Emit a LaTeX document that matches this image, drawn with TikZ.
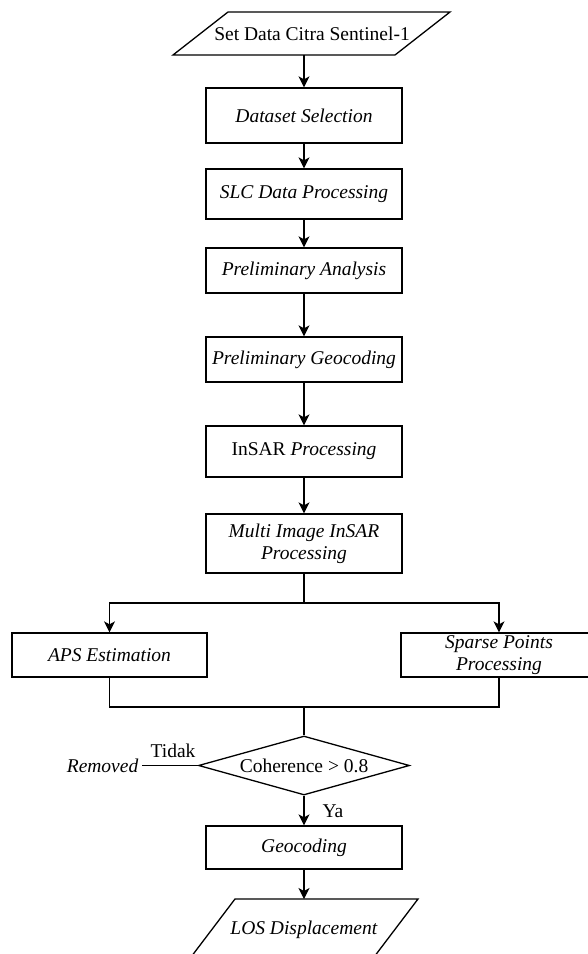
\documentclass[tikz,border=0pt]{standalone}
\usepackage{fontspec}
\setmainfont{Liberation Serif}
\usetikzlibrary{shapes.geometric,arrows.meta}
\begin{document}
\begin{tikzpicture}[x=1pt,y=-1pt,
  line width=1.3pt,
  every node/.style={font=\fontsize{19.5}{22}\selectfont},
  procbox/.style={draw, rectangle, minimum width=196pt, inner sep=0pt, align=center},
  arr/.style={-{Stealth[length=11pt,width=11pt,inset=3pt]}},
  plain/.style={-}]
\useasboundingbox (0,0) rectangle (587,954);
% input parallelogram
\draw (228,12) -- (450,12) -- (395,55) -- (173,55) -- cycle;
\node[inner sep=0pt] (inp) at (312,34) {Set Data Citra Sentinel-1};
\coordinate (inpS) at (304,55);
% process boxes
\node[procbox, minimum height=55pt] (ds) at (304,115.5) {\textit{Dataset Selection}};
\node[procbox, minimum height=50pt] (slc) at (304,194) {\textit{SLC Data Processing}};
\node[procbox, minimum height=45pt] (pa) at (304,270.5) {\textit{Preliminary Analysis}};
\node[procbox, minimum height=45pt] (pg) at (304,359.5) {\textit{Preliminary Geocoding}};
\node[procbox, minimum height=51pt] (ins) at (304,451.5) {InSAR \textit{Processing}};
\node[procbox, minimum height=59pt] (mi) at (304,543.5) {\textit{Multi Image InSAR}\\\textit{Processing}};
\node[procbox, minimum height=44pt, minimum width=195pt] (aps) at (109.5,655) {\textit{APS Estimation}};
\node[procbox, minimum height=44pt] (sp) at (499,655) {\textit{Sparse Points}\\\textit{Processing}};
\node[draw, diamond, aspect=3.58, minimum width=211pt, minimum height=59pt, inner sep=0pt] (dec) at (304,765.5) {Coherence > 0.8};
\node[procbox, minimum height=43pt] (geo) at (304,847.5) {\textit{Geocoding}};
% output parallelogram
\draw (235,899) -- (418,899) -- (371,961) -- (188,961) -- cycle;
\node[inner sep=0pt] (los) at (304,930) {\textit{LOS Displacement}};
\coordinate (losN) at (304,899);
% side labels
\node[anchor=east, inner xsep=3pt, inner ysep=0pt] (rem) at (142,765.5) {\textit{Removed}};
\node[inner sep=0pt] (tdk) at (173,751) {Tidak};
\node[inner sep=0pt] (ya) at (333,811) {Ya};
% junctions
\coordinate (j1) at (304,603);
\coordinate (j2) at (304,707);
% connectors
\draw[arr] (inpS) -- (ds.north);
\draw[arr] (ds.south) -- (slc.north);
\draw[arr] (slc.south) -- (pa.north);
\draw[arr] (pa.south) -- (pg.north);
\draw[arr] (pg.south) -- (ins.north);
\draw[arr] (ins.south) -- (mi.north);
\draw[plain] (mi.south) -- (j1);
\draw[arr] (j1) -| (aps.north);
\draw[arr] (j1) -| (sp.north);
\draw[plain] (aps.south) |- (j2);
\draw[plain] (sp.south) |- (j2);
\draw[plain] (j2) -- (dec.north);
\draw[plain] (dec.west) -- (rem.east);
\draw[arr] (dec.south) -- (geo.north);
\draw[arr] (geo.south) -- (losN);
\end{tikzpicture}
\end{document}
